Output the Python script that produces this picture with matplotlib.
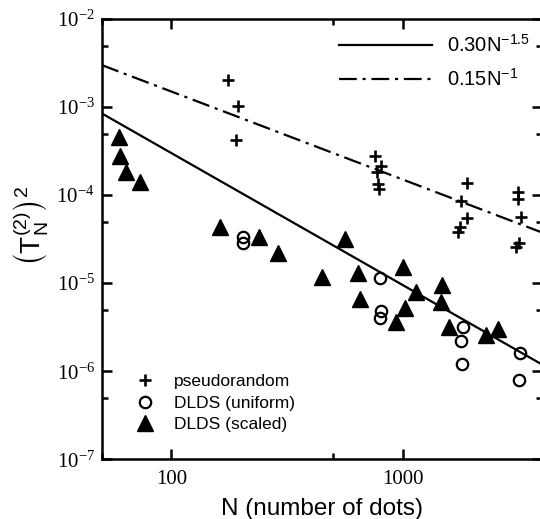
import numpy as np
import matplotlib
matplotlib.use("Agg")
import matplotlib.pyplot as plt
from matplotlib.ticker import LogLocator, FuncFormatter, NullFormatter

# pseudorandom point sets
PR_N = [175, 193, 191, 755, 801, 770, 778, 786, 1884, 1775, 1884, 1757, 1723,
        3129, 3129, 3224, 3160, 3067]
PR_T = [2.03e-3, 1.03e-3, 4.23e-4, 2.78e-4, 2.14e-4, 1.83e-4, 1.34e-4, 1.17e-4,
        1.37e-4, 8.57e-5, 5.5e-5, 4.34e-5, 3.81e-5, 1.08e-4, 9.04e-5, 5.65e-5,
        2.86e-5, 2.58e-5]

# DLDS, uniform
UNI_N = [204, 204, 792, 802, 795, 1812, 1774, 1792, 3192, 3175]
UNI_T = [3.37e-5, 2.84e-5, 1.14e-5, 4.83e-6, 3.99e-6, 3.14e-6, 2.2e-6, 1.22e-6,
         1.6e-6, 7.9e-7]

# DLDS, scaled
SC_N = [59.2, 59.8, 63.9, 73.0, 162.8, 238.3, 288.5, 448.7, 560, 639, 650.6,
        1000, 1142, 1016, 933, 1472, 1455, 1585, 2275, 2565]
SC_T = [4.54e-4, 2.8e-4, 1.85e-4, 1.42e-4, 4.37e-5, 3.32e-5, 2.18e-5, 1.19e-5,
        3.15e-5, 1.32e-5, 6.56e-6, 1.54e-5, 8.0e-6, 5.23e-6, 3.66e-6, 9.53e-6,
        6.11e-6, 3.22e-6, 2.58e-6, 3.02e-6]

# fitted power laws (coefficient, exponent) as given in the legend
FIT_N = np.array([50.0, 4000.0])
FIT_A = [0.30, 0.15]
FIT_P = [-1.5, -1.0]

SANS = "Liberation Sans"
SERIF = "Liberation Serif"

fig = plt.figure(figsize=(5.40, 5.19), dpi=100)
ax = fig.add_axes([101.7 / 540, (519 - 459.3) / 519, 440.7 / 540, 440.3 / 519])
ax.set_xscale("log")
ax.set_yscale("log")
ax.set_xlim(50, 4000)
ax.set_ylim(1e-7, 1e-2)

l1, = ax.plot(FIT_N, FIT_A[0] * FIT_N ** FIT_P[0], color="black", lw=1.6)
l2, = ax.plot(FIT_N, FIT_A[1] * FIT_N ** FIT_P[1], color="black", lw=1.6,
              linestyle=(0, (8, 2.6, 1.4, 2.6)))

p1, = ax.plot(PR_N, PR_T, linestyle="none", marker="+", ms=9, mew=1.9,
              color="black")
p2, = ax.plot(UNI_N, UNI_T, linestyle="none", marker="o", ms=8.2, mew=1.6,
              mfc="none", mec="black")
p3, = ax.plot(SC_N, SC_T, linestyle="none", marker="^", ms=11, color="black")

for s in ax.spines.values():
    s.set_linewidth(1.8)

ax.xaxis.set_major_locator(LogLocator(base=10, numticks=10))
ax.xaxis.set_minor_locator(LogLocator(base=10, subs=[5], numticks=10))
ax.xaxis.set_major_formatter(FuncFormatter(lambda v, pos: "%d" % v))
ax.xaxis.set_minor_formatter(NullFormatter())
ax.yaxis.set_major_locator(LogLocator(base=10, numticks=10))
ax.yaxis.set_minor_locator(LogLocator(base=10, subs=[5], numticks=10))
ax.yaxis.set_minor_formatter(NullFormatter())

ax.tick_params(which="both", direction="in", top=True, right=True, width=1.8)
ax.tick_params(which="major", length=7)
ax.tick_params(which="minor", length=4.5)
ax.tick_params(axis="x", which="major", pad=8)
ax.tick_params(axis="y", which="major", pad=5)
for lab in ax.get_xticklabels() + ax.get_yticklabels():
    lab.set_fontfamily(SERIF)
    lab.set_fontsize(15)

ax.set_xlabel("N (number of dots)", fontfamily=SANS, fontsize=17.5, labelpad=6)
ax.set_ylabel(r"$\left(\mathdefault{T}_{\mathdefault{N}}^{\mathdefault{(2)}}\right)^{\mathdefault{2}}$",
              fontfamily=SANS, fontsize=20)
ax.yaxis.set_label_coords(-0.118, 0.53)

leg1 = ax.legend([l1, l2],
                 [r"0.30N$^{\mathdefault{-1.5}}$", r"0.15N$^{\mathdefault{-1}}$"],
                 loc="upper left", bbox_to_anchor=(329 / 540, (519 - 24) / 519),
                 bbox_transform=fig.transFigure, frameon=False, borderpad=0,
                 handlelength=4.6, handletextpad=0.75, labelspacing=0.6,
                 prop={"family": SANS, "size": 14.5})
ax.add_artist(leg1)
ax.legend([p1, p2, p3], ["pseudorandom", "DLDS (uniform)", "DLDS (scaled)"],
          loc="upper left", bbox_to_anchor=(128 / 540, (519 - 365) / 519),
          bbox_transform=fig.transFigure, frameon=False, borderpad=0,
          numpoints=1, handlelength=1.0, handletextpad=1.15, labelspacing=0.38,
          prop={"family": SANS, "size": 12.5})

fig.savefig("out.png", dpi=100)
